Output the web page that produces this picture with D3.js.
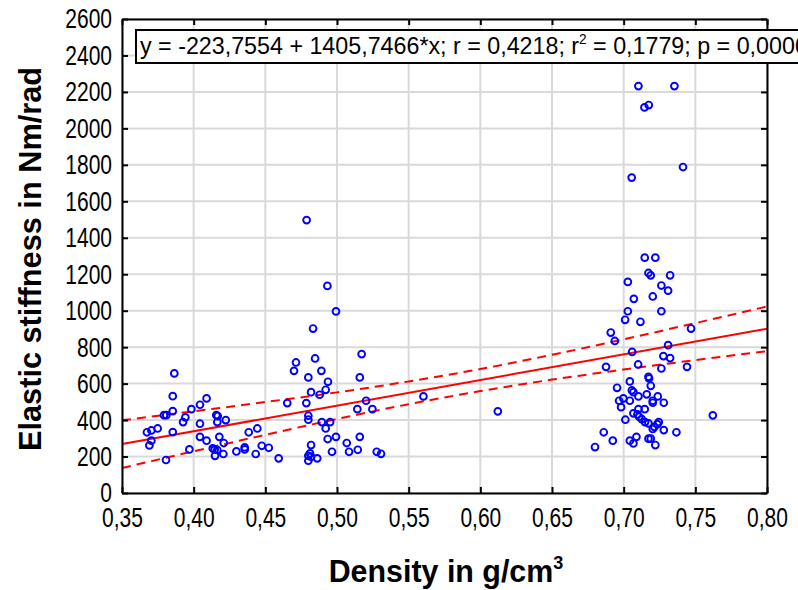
<!DOCTYPE html>
<html>
<head>
<meta charset="utf-8">
<script src="https://cdn.jsdelivr.net/npm/d3@7"></script>
<style>
  body { margin: 0; background: #fff; }
  svg { display: block; }
  text { font-family: 'Liberation Sans', Arial, sans-serif; fill: #000; }
</style>
</head>
<body>
<svg id="chart" width="798" height="590"></svg>
<script>
// density (g/cm3) and elastic stiffness (Nm/rad)
var density = [
	0.3865,0.3854,0.409,0.4044,0.3984,0.3854,0.3793,0.3809,0.3942,0.3926,
	0.4158,0.4168,0.4165,0.4224,0.4044,0.3749,0.3705,0.3674,0.3854,0.3705,
	0.3691,0.4044,0.409,0.4179,0.421,0.397,0.4133,0.4147,0.4165,0.4149,
	0.4207,0.4298,0.4356,0.4356,0.4433,0.4475,0.4524,0.4384,0.4444,0.3807,
	0.4788,0.4933,0.4993,0.4833,0.5172,0.4714,0.47,0.4847,0.4891,0.48,
	0.4937,0.5159,0.4819,0.4921,0.4879,0.4653,0.4786,0.5203,0.5142,0.5247,
	0.48,0.48,0.4894,0.4952,0.4921,0.4593,0.4993,0.4935,0.5159,0.5068,
	0.4819,0.4965,0.5084,0.5145,0.5277,0.5307,0.48,0.4812,0.48,0.4819,0.4862,
	0.5603,0.6122,0.68,
	0.7147,0.7221,0.7173,0.7189,0.7324,0.7029,0.7263,0.731,0.7071,0.7203,
	0.7029,0.7263,0.701,0.7117,0.691,0.747,0.6938,0.731,0.7059,0.7277,
	0.7324,0.6877,0.7101,0.7263,0.7442,0.7103,0.7354,0.7145,0.7175,0.7414,
	0.7056,0.7173,0.7177,0.7043,0.7189,0.6954,0.7057,0.7068,0.7161,0.7103,
	0.7238,0.6998,0.6968,0.7043,0.7203,0.7203,0.728,0.6982,0.7103,0.7147,
	0.7068,0.7096,0.7108,0.7126,0.7012,0.7149,0.7173,0.7245,0.7235,0.7214,
	0.7203,0.728,0.7368,0.6861,0.6924,0.7043,0.7068,0.7089,0.7173,0.7189,
	0.7221,0.7622
];
var stiffness = [
	656,531,519,484,460,449,427,427,415,389,
	427,422,389,400,380,354,343,333,334,287,
	261,308,287,308,274,239,245,239,236,204,
	214,228,250,239,214,259,248,333,354,181,
	1497,1136,996,902,762,716,670,738,670,634,
	610,634,553,566,539,493,493,506,460,460,
	424,402,389,389,354,190,308,296,308,274,
	263,226,226,237,226,215,204,217,177,199,190,
	530,448,252,
	1291,1291,1207,1194,1194,1158,1138,1110,1065,1078,
	997,997,950,939,880,902,834,811,774,751,
	740,692,705,683,692,2232,2232,2115,2128,1788,
	1730,637,628,612,588,577,563,553,541,530,
	530,519,506,506,506,495,495,471,460,460,
	437,431,418,405,402,389,382,389,378,363,
	351,345,333,333,287,287,272,308,298,298,
	263,426
];

// fit (from the caption) and 95% band
var fitA = -223.7554, fitB = 1405.7466;
var bandX     = [0.35, 0.40, 0.45, 0.50, 0.55, 0.60, 0.65, 0.70, 0.75, 0.80];
var bandUpper = [399, 448, 499, 552, 612, 680, 758, 843, 932, 1023];
var bandLower = [137, 229, 319, 406, 487, 559, 622, 677, 729, 778];

var xTicks = [0.35, 0.40, 0.45, 0.50, 0.55, 0.60, 0.65, 0.70, 0.75, 0.80];
var yTicks = d3.range(0, 2601, 200);

var svg = d3.select("#chart");
var x = d3.scaleLinear().domain([0.35, 0.80]).range([122, 767]);
var y = d3.scaleLinear().domain([0, 2600]).range([493, 19]);
var narrow = 0.75;  // labels in the picture are a condensed face

// grid
svg.append("g").selectAll("line").data(xTicks).enter().append("line")
	.attr("x1", d => x(d)).attr("x2", d => x(d))
	.attr("y1", y(2600)).attr("y2", y(0))
	.attr("stroke", "#d9d9d9").attr("stroke-width", 2);
svg.append("g").selectAll("line").data(yTicks).enter().append("line")
	.attr("x1", x(0.35)).attr("x2", x(0.80))
	.attr("y1", d => y(d)).attr("y2", d => y(d))
	.attr("stroke", "#d9d9d9").attr("stroke-width", 2);

// clip for lines
svg.append("clipPath").attr("id", "plotclip").append("rect")
	.attr("x", x(0.35)).attr("y", y(2600))
	.attr("width", x(0.80) - x(0.35)).attr("height", y(0) - y(2600));

var plot = svg.append("g").attr("clip-path", "url(#plotclip)");

var band = d3.line().x(d => x(d[0])).y(d => y(d[1])).curve(d3.curveMonotoneX);
plot.append("path")
	.attr("d", band(bandX.map((v, i) => [v, bandUpper[i]])))
	.attr("fill", "none").attr("stroke", "#ff0000").attr("stroke-width", 2)
	.attr("stroke-dasharray", "9,6");
plot.append("path")
	.attr("d", band(bandX.map((v, i) => [v, bandLower[i]])))
	.attr("fill", "none").attr("stroke", "#ff0000").attr("stroke-width", 2)
	.attr("stroke-dasharray", "9,6");
plot.append("line")
	.attr("x1", x(0.35)).attr("y1", y(fitA + fitB * 0.35))
	.attr("x2", x(0.80)).attr("y2", y(fitA + fitB * 0.80))
	.attr("stroke", "#ff0000").attr("stroke-width", 2);

// points
svg.append("g").selectAll("circle").data(density).enter().append("circle")
	.attr("cx", d => x(d))
	.attr("cy", (d, i) => y(stiffness[i]))
	.attr("r", 3.4)
	.attr("fill", "none").attr("stroke", "#0000ff").attr("stroke-width", 1.9);

// axes (ticks inside on all four sides)
var fmt = d => d3.format(".2f")(d).replace(".", ",");
var xb = svg.append("g").attr("transform", "translate(0," + y(0) + ")")
	.call(d3.axisBottom(x).tickValues(xTicks).tickSizeInner(-6).tickSizeOuter(0).tickPadding(14).tickFormat(fmt));
var yl = svg.append("g").attr("transform", "translate(" + x(0.35) + ",0)")
	.call(d3.axisLeft(y).tickValues(yTicks).tickSizeInner(-6).tickSizeOuter(0).tickPadding(10).tickFormat(d3.format("d")));
var xt = svg.append("g").attr("transform", "translate(0," + y(2600) + ")")
	.call(d3.axisTop(x).tickValues(xTicks).tickSizeInner(-6).tickSizeOuter(0).tickFormat(""));
var yr = svg.append("g").attr("transform", "translate(" + x(0.80) + ",0)")
	.call(d3.axisRight(y).tickValues(yTicks).tickSizeInner(-6).tickSizeOuter(0).tickFormat(""));

[xb, yl, xt, yr].forEach(function(g) {
	g.select(".domain").attr("stroke", "#000").attr("stroke-width", 2);
	g.selectAll(".tick line").attr("stroke", "#000").attr("stroke-width", 2);
	g.selectAll(".tick text").attr("font-size", 28).attr("font-family", null).attr("fill", "#000")
		.attr("transform", "scale(" + narrow + ",1)");
});
xb.selectAll(".tick text").attr("dy", "0.7em");
yl.selectAll(".tick text").attr("x", -10 / narrow);

// axis titles
svg.append("text")
	.attr("transform", "translate(41,259) rotate(-90) scale(0.96,1)")
	.attr("text-anchor", "middle")
	.attr("font-size", 32).attr("font-weight", "bold")
	.text("Elastic stiffness in Nm/rad");

var xTitle = svg.append("text")
	.attr("transform", "translate(446,582) scale(0.95,1)")
	.attr("text-anchor", "middle")
	.attr("font-size", 32).attr("font-weight", "bold");
xTitle.append("tspan").text("Density in g/cm");
xTitle.append("tspan").attr("font-size", 19).attr("dy", -13).text("3");

// caption box
svg.append("rect")
	.attr("x", 136).attr("y", 30).attr("width", 720).attr("height", 33)
	.attr("fill", "#fff").attr("stroke", "#000").attr("stroke-width", 2);
var cap = svg.append("text").attr("transform", "translate(140,54) scale(0.97,1)").attr("font-size", 24);
cap.append("tspan").text("y = -223,7554 + 1405,7466*x; r = 0,4218; r");
cap.append("tspan").attr("font-size", 14).attr("dy", -10).text("2");
cap.append("tspan").attr("dy", 10).text(" = 0,1779; p = 0,00000");
</script>
</body>
</html>
